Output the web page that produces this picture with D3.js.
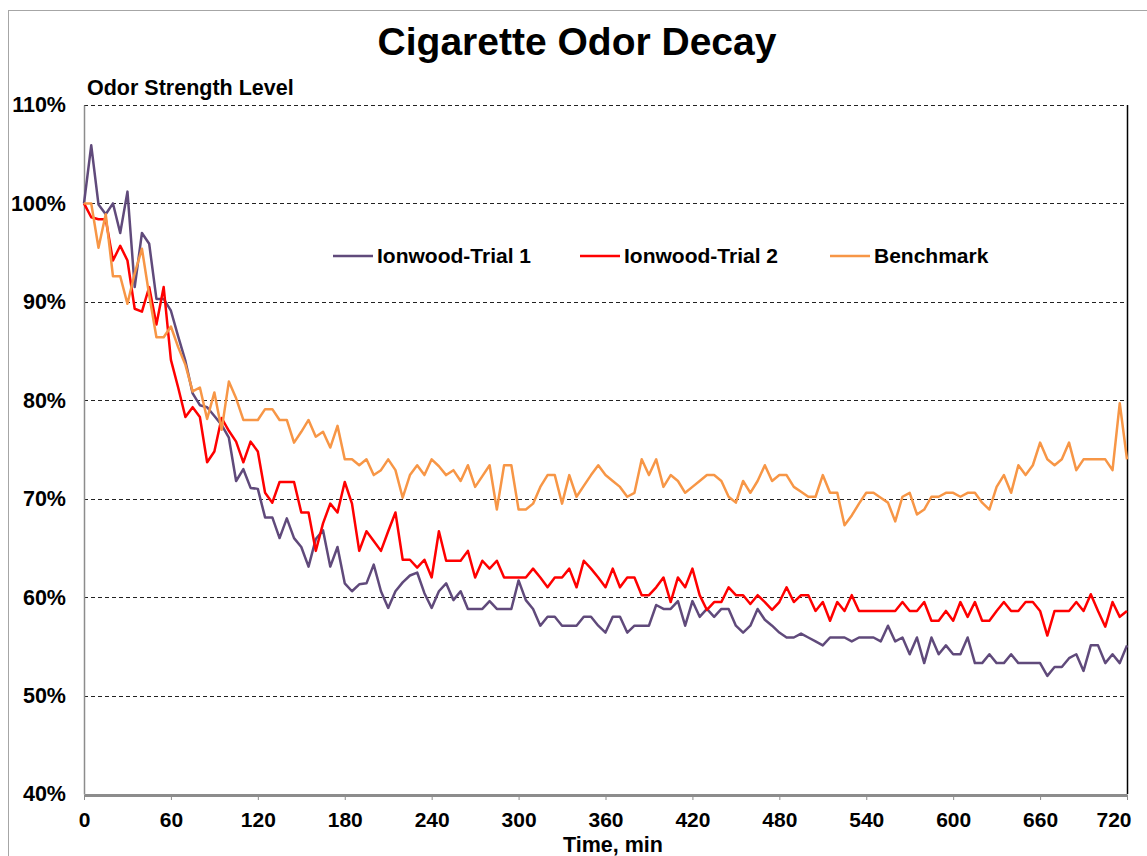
<!DOCTYPE html>
<html>
<head>
<meta charset="utf-8">
<script src="https://cdn.jsdelivr.net/npm/d3@7/dist/d3.min.js"></script>
<style>
  html, body { margin: 0; padding: 0; background: #fff; }
  svg { display: block; }
  text { font-family: "Liberation Sans", Arial, sans-serif; font-weight: bold; fill: #000; }
</style>
</head>
<body>
<svg id="chart" width="1147" height="856"></svg>
<script>
// ---- data ----
const seriesNames = ["Ionwood-Trial 1", "Ionwood-Trial 2", "Benchmark"];
const seriesColors = ["#604A7B", "#FF0000", "#F79646"];
const times = d3.range(0, 725, 5); // minutes, 5-min sampling
const trial1 = [
  100, 105.9, 99.9, 98.9, 100.0, 97.0, 101.2, 91.5, 97.0, 95.9,
  90.3, 90.3, 89.1, 86.5, 84.0, 80.7, 79.5, 79.3, 78.4, 77.5,
  76.2, 71.8, 73.0, 71.1, 71.0, 68.1, 68.1, 66.0, 68.0, 66.0,
  65.1, 63.1, 65.9, 66.8, 63.1, 65.1, 61.4, 60.6, 61.3, 61.4,
  63.3, 60.6, 58.9, 60.6, 61.5, 62.2, 62.5, 60.4, 58.9, 60.6,
  61.4, 59.7, 60.6, 58.8, 58.8, 58.8, 59.6, 58.8, 58.8, 58.8,
  61.7, 59.7, 58.8, 57.1, 58.0, 58.0, 57.1, 57.1, 57.1, 58.0,
  58.0, 57.1, 56.4, 58.0, 58.0, 56.4, 57.1, 57.1, 57.1, 59.2,
  58.8, 58.8, 59.6, 57.1, 59.6, 58.0, 58.8, 58.0, 58.8, 58.8,
  57.1, 56.4, 57.1, 58.8, 57.7, 57.1, 56.4, 55.9, 55.9, 56.3,
  55.9, 55.5, 55.1, 55.9, 55.9, 55.9, 55.5, 55.9, 55.9, 55.9,
  55.5, 57.1, 55.5, 55.9, 54.2, 55.9, 53.3, 55.9, 54.2, 55.1,
  54.2, 54.2, 55.9, 53.3, 53.3, 54.2, 53.3, 53.3, 54.2, 53.3,
  53.3, 53.3, 53.3, 52.0, 52.9, 52.9, 53.8, 54.2, 52.5, 55.1,
  55.1, 53.3, 54.2, 53.3, 55.1
];
const trial2 = [
  100, 98.6, 98.4, 98.4, 94.2, 95.7, 94.2, 89.3, 89.0, 91.5,
  87.7, 91.5, 84.1, 81.3, 78.3, 79.3, 78.3, 73.7, 74.8, 78.2,
  76.9, 75.8, 73.7, 75.8, 74.8, 70.6, 69.6, 71.7, 71.7, 71.7,
  68.6, 68.6, 64.7, 67.5, 69.5, 68.6, 71.7, 69.5, 64.7, 66.7,
  65.7, 64.7, 66.7, 68.6, 63.8, 63.8, 63.0, 63.8, 62.0, 66.7,
  63.7, 63.7, 63.7, 64.7, 62.0, 63.7, 62.9, 63.7, 62.0, 62.0,
  62.0, 62.0, 62.9, 62.0, 61.0, 62.0, 62.0, 62.9, 61.0, 63.7,
  62.9, 62.0, 61.0, 62.9, 61.0, 62.0, 62.0, 60.2, 60.2, 61.0,
  62.0, 59.5, 62.0, 61.0, 62.9, 60.2, 58.7, 59.5, 59.5, 61.0,
  60.2, 60.2, 59.3, 60.2, 59.5, 58.7, 59.5, 61.0, 59.5, 60.2,
  60.2, 58.6, 59.5, 57.6, 59.5, 58.6, 60.2, 58.6, 58.6, 58.6,
  58.6, 58.6, 58.6, 59.5, 58.6, 58.6, 59.5, 57.6, 57.6, 58.6,
  57.6, 59.5, 58.0, 59.5, 57.6, 57.6, 58.6, 59.5, 58.6, 58.6,
  59.5, 59.5, 58.6, 56.1, 58.6, 58.6, 58.6, 59.5, 58.6, 60.3,
  58.6, 57.0, 59.5, 58.0, 58.6
];
const benchmark = [
  100, 100, 95.5, 98.9, 92.6, 92.6, 89.8, 92.9, 95.4, 90.7,
  86.4, 86.4, 87.5, 85.4, 83.6, 80.9, 81.3, 78.1, 80.8, 77.0,
  81.9, 80.2, 78.0, 78.0, 78.0, 79.1, 79.1, 78.0, 78.0, 75.7,
  76.8, 78.0, 76.3, 76.8, 75.2, 77.4, 74.0, 74.0, 73.4, 74.0,
  72.4, 72.9, 74.0, 72.9, 70.1, 72.4, 73.4, 72.4, 74.0, 73.3,
  72.4, 72.9, 71.8, 73.4, 71.2, 72.3, 73.4, 68.9, 73.4, 73.4,
  68.9, 68.9, 69.5, 71.2, 72.4, 72.4, 69.5, 72.4, 70.2, 71.3,
  72.4, 73.4, 72.4, 71.8, 71.2, 70.2, 70.6, 74.0, 72.4, 74.0,
  71.2, 72.4, 71.8, 70.6, 71.2, 71.8, 72.4, 72.4, 71.8, 70.2,
  69.6, 71.8, 70.6, 71.8, 73.4, 71.8, 72.4, 72.4, 71.2, 70.7,
  70.2, 70.2, 72.4, 70.6, 70.6, 67.3, 68.3, 69.5, 70.6, 70.6,
  70.1, 69.6, 67.7, 70.2, 70.6, 68.4, 68.9, 70.2, 70.2, 70.6,
  70.6, 70.2, 70.6, 70.6, 69.6, 68.9, 71.2, 72.4, 70.6, 73.4,
  72.4, 73.4, 75.7, 74.0, 73.4, 74.0, 75.7, 72.9, 74.0, 74.0,
  74.0, 74.0, 72.9, 79.7, 74.0
];
const xTicks = [0, 60, 120, 180, 240, 300, 360, 420, 480, 540, 600, 660, 720];
const yTicks = [40, 50, 60, 70, 80, 90, 100, 110];
const titleText = "Cigarette Odor Decay";
const yTitle = "Odor Strength Level";
const xTitle = "Time, min";

// ---- drawing ----
const svg = d3.select("#chart");
const plot = { left: 84, right: 1127, top: 105, bottom: 794 };
const x = d3.scaleLinear().domain([0, 720]).range([plot.left, plot.right]);
const y = d3.scaleLinear().domain([40, 110]).range([plot.bottom, plot.top]);
const FONT = "'Liberation Sans', Arial, sans-serif";

// outer chart border
svg.append("rect").attr("x", 8.5).attr("y", 10.5).attr("width", 1150).attr("height", 860)
  .attr("fill", "#fff").attr("stroke", "#a6a6a6").attr("stroke-width", 1);

// titles
svg.append("text").attr("x", 577).attr("y", 55).attr("text-anchor", "middle")
  .style("font-size", "39px").text(titleText);
svg.append("text").attr("x", 87).attr("y", 95).style("font-size", "21.5px").text(yTitle);
svg.append("text").attr("x", 613).attr("y", 852).attr("text-anchor", "middle")
  .style("font-size", "21.5px").text(xTitle);

// gridlines
svg.append("g").selectAll("line").data(yTicks.filter(d => d > 40)).join("line")
  .attr("x1", plot.left).attr("x2", plot.right)
  .attr("y1", d => Math.round(y(d)) + 0.5).attr("y2", d => Math.round(y(d)) + 0.5)
  .attr("stroke", "#222").attr("stroke-width", 1).attr("stroke-dasharray", "4,3");

// right plot border
svg.append("line").attr("x1", plot.right + 0.5).attr("x2", plot.right + 0.5)
  .attr("y1", plot.top).attr("y2", plot.bottom)
  .attr("stroke", "#000").attr("stroke-width", 1.5);

// y axis
const yAxis = svg.append("g").attr("transform", `translate(${plot.left},0)`)
  .call(d3.axisLeft(y).tickValues(yTicks).tickSize(0).tickPadding(18).tickFormat(d => d + "%"));
yAxis.select(".domain").attr("stroke", "#8c8c8c").attr("stroke-width", 1.5);
yAxis.selectAll("text").style("font-size", "21.5px").style("font-family", FONT)
  .style("font-weight", "bold").attr("fill", "#000");

// x axis
const xAxis = svg.append("g").attr("transform", `translate(0,${plot.bottom + 1})`)
  .call(d3.axisBottom(x).tickValues(xTicks).tickSize(5).tickSizeOuter(0).tickPadding(12));
xAxis.select(".domain").attr("stroke", "#8c8c8c").attr("stroke-width", 3);
xAxis.selectAll(".tick line").attr("stroke", "#8c8c8c").attr("stroke-width", 1);
xAxis.selectAll("text").style("font-size", "21px").style("font-family", FONT)
  .style("font-weight", "bold").attr("fill", "#000");
// last label is kept inside the chart like the reference
xAxis.selectAll(".tick").filter(d => d === 720).select("text")
  .attr("text-anchor", "end").attr("dx", 4);

// series lines
const allSeries = [trial1, trial2, benchmark];
const line = d3.line().x((d, i) => x(times[i])).y(d => y(d));
allSeries.forEach((vals, k) => {
  svg.append("path").datum(vals).attr("d", line)
    .attr("fill", "none").attr("stroke", seriesColors[k]).attr("stroke-width", 2.5)
    .attr("stroke-linejoin", "round");
});

// legend
const legendX = [333, 580, 830];
const legendY = 256;
seriesNames.forEach((name, k) => {
  svg.append("line").attr("x1", legendX[k]).attr("x2", legendX[k] + 40)
    .attr("y1", legendY).attr("y2", legendY)
    .attr("stroke", seriesColors[k]).attr("stroke-width", 2.5);
  svg.append("text").attr("x", legendX[k] + 44).attr("y", legendY + 7)
    .style("font-size", "21px").text(name);
});
</script>
</body>
</html>
